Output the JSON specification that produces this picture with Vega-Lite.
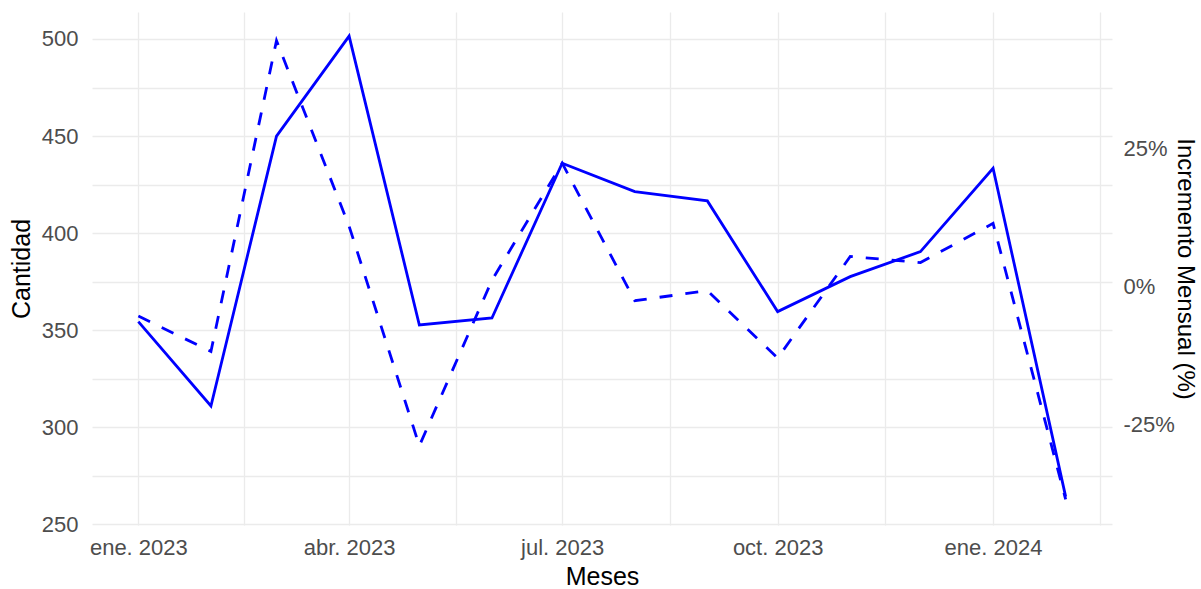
{
  "$schema": "https://vega.github.io/schema/vega-lite/v6.json",
  "width": 1020,
  "height": 513,
  "autosize": {"type": "none"},
  "padding": {"left": 92, "top": 12, "right": 89, "bottom": 64},
  "background": "white",
  "config": {
    "view": {"stroke": null},
    "font": "Liberation Sans",
    "axis": {
      "domain": false,
      "ticks": false,
      "tickSize": 0,
      "labelFont": "Liberation Sans",
      "titleFont": "Liberation Sans",
      "labelColor": "#4D4D4D",
      "labelFontSize": 22,
      "titleFontSize": 25,
      "titleFontWeight": "normal",
      "titleColor": "#000000",
      "gridColor": "#EBEBEB",
      "gridWidth": 1.3
    }
  },
  "data": {
    "values": [
      {"mes": "2023-01-01", "cantidad": 354.4, "incremento": -0.054},
      {"mes": "2023-02-01", "cantidad": 311.0, "incremento": -0.118},
      {"mes": "2023-03-01", "cantidad": 450.0, "incremento": 0.445},
      {"mes": "2023-04-01", "cantidad": 501.5, "incremento": 0.109},
      {"mes": "2023-05-01", "cantidad": 352.7, "incremento": -0.289},
      {"mes": "2023-06-01", "cantidad": 356.3, "incremento": 0.011},
      {"mes": "2023-07-01", "cantidad": 436.0, "incremento": 0.223},
      {"mes": "2023-08-01", "cantidad": 421.4, "incremento": -0.026},
      {"mes": "2023-09-01", "cantidad": 416.6, "incremento": -0.008},
      {"mes": "2023-10-01", "cantidad": 359.6, "incremento": -0.13},
      {"mes": "2023-11-01", "cantidad": 377.6, "incremento": 0.054},
      {"mes": "2023-12-01", "cantidad": 390.5, "incremento": 0.043},
      {"mes": "2024-01-01", "cantidad": 433.4, "incremento": 0.114},
      {"mes": "2024-02-01", "cantidad": 264.3, "incremento": -0.386}
    ]
  },
  "encoding": {
    "x": {
      "field": "mes",
      "type": "temporal",
      "scale": {
        "type": "utc",
        "domain": [
          {"year": 2022, "month": 12, "date": 12, "hours": 5, "utc": true},
          {"year": 2024, "month": 2, "date": 20, "hours": 19, "utc": true}
        ]
      },
      "axis": {
        "title": "Meses",
        "grid": true,
        "values": [
          {"year": 2023, "month": 1, "date": 1, "utc": true},
          {"year": 2023, "month": 2, "date": 15, "utc": true},
          {"year": 2023, "month": 4, "date": 1, "utc": true},
          {"year": 2023, "month": 5, "date": 16, "hours": 12, "utc": true},
          {"year": 2023, "month": 7, "date": 1, "utc": true},
          {"year": 2023, "month": 8, "date": 16, "utc": true},
          {"year": 2023, "month": 10, "date": 1, "utc": true},
          {"year": 2023, "month": 11, "date": 16, "utc": true},
          {"year": 2024, "month": 1, "date": 1, "utc": true},
          {"year": 2024, "month": 2, "date": 15, "hours": 12, "utc": true}
        ],
        "labelExpr": "utcdate(datum.value) == 1 ? ['ene.','feb.','mar.','abr.','may.','jun.','jul.','ago.','sep.','oct.','nov.','dic.'][utcmonth(datum.value)] + ' ' + utcyear(datum.value) : ''",
        "labelPadding": 12,
        "titlePadding": 6,
        "labelFlush": false,
        "labelOverlap": false
      }
    }
  },
  "layer": [
    {
      "mark": {"type": "line", "color": "#0000FF", "strokeWidth": 2.8},
      "encoding": {
        "y": {
          "field": "cantidad",
          "type": "quantitative",
          "scale": {"domain": [249.7, 513.9], "nice": false, "zero": false},
          "axis": {
            "title": "Cantidad",
            "orient": "left",
            "grid": true,
            "values": [250, 275, 300, 325, 350, 375, 400, 425, 450, 475, 500],
            "labelExpr": "datum.value % 50 == 0 ? datum.value : ''",
            "labelPadding": 14,
            "titlePadding": 7,
            "labelFlush": false,
            "labelOverlap": false
          }
        }
      }
    },
    {
      "mark": {"type": "line", "color": "#0000FF", "strokeWidth": 2.8, "strokeDash": [13, 13]},
      "encoding": {
        "y": {
          "field": "incremento",
          "type": "quantitative",
          "scale": {"domain": [-0.4324, 0.4969], "nice": false, "zero": false},
          "axis": {
            "title": "Incremento Mensual (%)",
            "orient": "right",
            "grid": false,
            "values": [-0.25, 0, 0.25],
            "labelExpr": "round(datum.value * 100) + '%'",
            "labelPadding": 11,
            "titlePadding": 3,
            "titleBaseline": "alphabetic",
            "titleFontSize": 24,
            "labelFlush": false,
            "labelOverlap": false
          }
        }
      }
    }
  ],
  "resolve": {"scale": {"y": "independent"}}
}
